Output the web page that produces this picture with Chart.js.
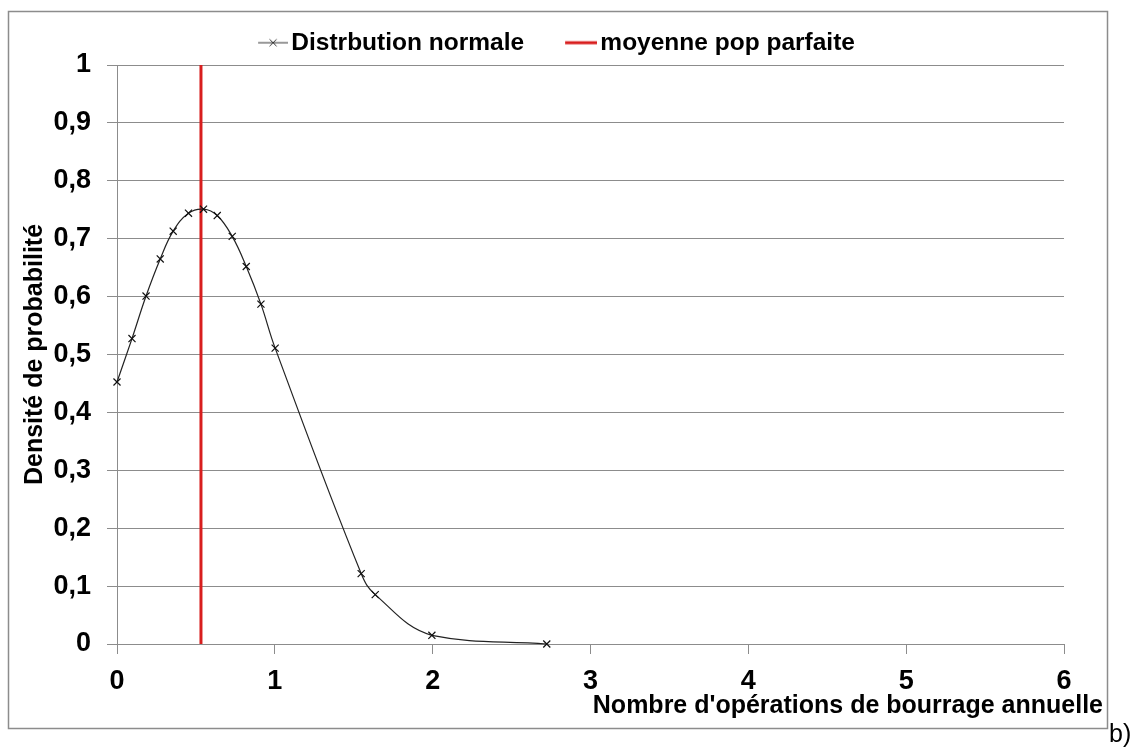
<!DOCTYPE html>
<html>
<head>
<meta charset="utf-8">
<script src="https://cdn.jsdelivr.net/npm/chart.js"></script>
<style>
  html, body { margin: 0; padding: 0; background: #fff; }
</style>
</head>
<body>
<canvas id="chart" width="1136" height="749"></canvas>
<script>
// values
const distX = [0, 0.095, 0.184, 0.274, 0.356, 0.453, 0.548, 0.635, 0.73, 0.819, 0.912, 1.002, 1.547, 1.636, 1.995, 2.723];
const distY = [0.4525, 0.5275, 0.601, 0.665, 0.713, 0.744, 0.751, 0.74, 0.704, 0.652, 0.587, 0.511, 0.1216, 0.0853, 0.015, 0.0];
const meanX = 0.532;
const meanY = [0, 1];
const seriesNames = ['Distrbution normale', 'moyenne pop parfaite'];
const xTickLabels = ['0', '1', '2', '3', '4', '5', '6'];
const yTickLabels = ['0', '0,1', '0,2', '0,3', '0,4', '0,5', '0,6', '0,7', '0,8', '0,9', '1'];
const xTitle = "Nombre d'opérations de bourrage annuelle";
const yTitle = 'Densité de probabilité';
const cornerNote = 'b)';

const FONT = "'Liberation Sans', Arial, sans-serif";
const GRID = '#8c8c8c';
const RED = '#d81e1e';

Chart.defaults.font.family = FONT;
Chart.defaults.color = '#000';

// little legend pictures: line (+ cross) sitting at the right end of a 60px canvas
function legendIcon(color, width, len, cross) {
  const c = document.createElement('canvas');
  c.width = 60;
  c.height = 20;
  const g = c.getContext('2d');
  g.strokeStyle = color;
  g.lineWidth = width;
  g.beginPath();
  g.moveTo(60 - len, 10);
  g.lineTo(60, 10);
  g.stroke();
  if (cross) {
    const cx = 60 - len / 2;
    g.lineWidth = 1;
    g.beginPath();
    g.moveTo(cx - 3.5, 6.5); g.lineTo(cx + 3.5, 13.5);
    g.moveTo(cx + 3.5, 6.5); g.lineTo(cx - 3.5, 13.5);
    g.stroke();
  }
  return c;
}
const legendIcons = [legendIcon('#333', 1, 30, true), legendIcon(RED, 3, 32, false)];

const decor = {
  id: 'decor',
  beforeDraw(chart) {
    const ctx = chart.ctx;
    ctx.save();
    ctx.fillStyle = '#fff';
    ctx.fillRect(0, 0, chart.width, chart.height);
    ctx.strokeStyle = GRID;
    ctx.lineWidth = 1.5;
    ctx.strokeRect(8.5, 11.5, 1099, 717);
    ctx.restore();
  },
  afterDraw(chart) {
    const ctx = chart.ctx;
    ctx.save();
    ctx.fillStyle = '#000';
    ctx.font = 'bold 25px ' + FONT;
    ctx.textAlign = 'right';
    ctx.textBaseline = 'alphabetic';
    ctx.fillText(xTitle, 1103, 713);
    ctx.font = '25px ' + FONT;
    ctx.textAlign = 'left';
    ctx.fillText(cornerNote, 1109, 742);
    ctx.restore();
  }
};

new Chart(document.getElementById('chart'), {
  type: 'line',
  data: {
    datasets: [{
      label: seriesNames[0],
      data: distX.map((x, i) => ({ x: x, y: distY[i] })),
      borderColor: '#222',
      borderWidth: 1.2,
      tension: 0.4,
      pointStyle: 'crossRot',
      pointRadius: 5,
      pointBorderColor: '#111',
      pointBorderWidth: 1.2,
      clip: false
    }, {
      label: seriesNames[1],
      data: meanY.map(y => ({ x: meanX, y: y })),
      borderColor: RED,
      backgroundColor: RED,
      borderWidth: 3,
      pointRadius: 0
    }]
  },
  options: {
    responsive: false,
    animation: false,
    layout: { padding: { top: 8.5, right: 44, bottom: 0, left: 0 } },
    scales: {
      x: {
        type: 'linear',
        min: 0,
        max: 6,
        ticks: {
          stepSize: 1,
          padding: 11,
          font: { size: 27, weight: 'bold' },
          callback: (v, i) => xTickLabels[i]
        },
        grid: { drawOnChartArea: false, drawTicks: true, tickLength: 10, color: GRID },
        border: { color: GRID, width: 1 },
        afterFit(s) { s.height = 105; }
      },
      y: {
        min: 0,
        max: 1,
        ticks: {
          stepSize: 0.1,
          padding: 16,
          font: { size: 27, weight: 'bold' },
          callback: (v, i) => yTickLabels[i]
        },
        grid: { color: GRID, tickLength: 10 },
        border: { color: GRID, width: 1 },
        title: {
          display: true,
          text: yTitle,
          font: { size: 25, weight: 'bold' },
          padding: { top: 20, bottom: 0 }
        },
        afterFit(s) { s.width = 117; }
      },
      yR: {
        position: 'right',
        display: true,
        grid: { display: false },
        border: { display: false },
        ticks: { display: false },
        afterFit(s) { s.width = 28; }
      }
    },
    plugins: {
      legend: {
        position: 'top',
        labels: {
          usePointStyle: true,
          pointStyleWidth: 42,
          padding: 22,
          font: { size: 24.5, weight: 'bold' },
          color: '#000',
          generateLabels(chart) {
            const items = Chart.defaults.plugins.legend.labels.generateLabels(chart);
            items.sort((a, b) => a.datasetIndex - b.datasetIndex);
            items.forEach(it => { it.pointStyle = legendIcons[it.datasetIndex]; });
            return items;
          }
        }
      },
      tooltip: { enabled: false }
    }
  },
  plugins: [decor]
});
</script>
</body>
</html>
